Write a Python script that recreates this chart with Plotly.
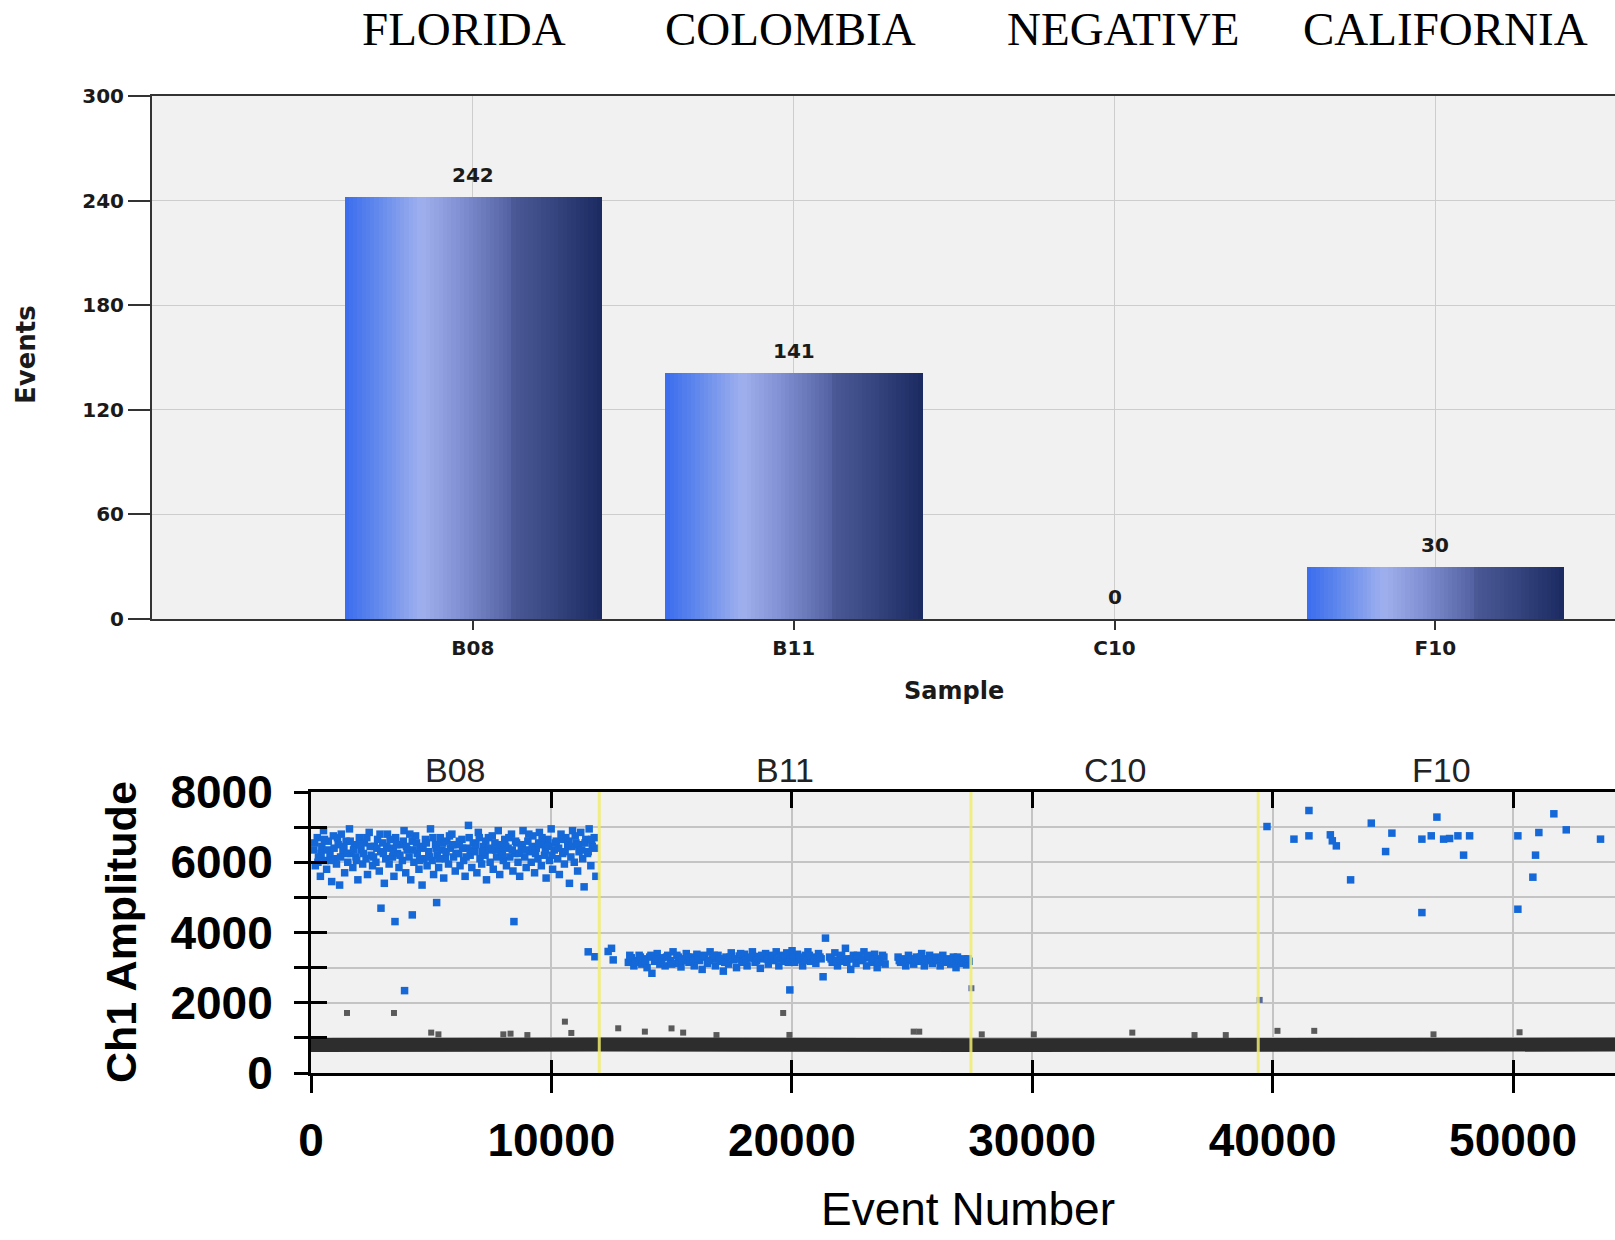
import plotly.graph_objects as go

# ---------------- data: top bar chart ----------------
samples = ["B08", "B11", "C10", "F10"]
events = [242, 141, 0, 30]
origins = ["FLORIDA", "COLOMBIA", "NEGATIVE", "CALIFORNIA"]
origin_shift = [-9, -3, 8, 10]
events_ticks = [0, 60, 120, 180, 240, 300]

# ---------------- data: droplet scatter ----------------
well_edges = [0, 11990, 27450, 39400, 54650]
amp_ticks = [0, 1000, 2000, 3000, 4000, 5000, 6000, 7000, 8000]
amp_labels = ["0", "", "2000", "", "4000", "", "6000", "", "8000"]
event_ticks = [0, 10000, 20000, 30000, 40000, 50000]
neg_low = [600, 610, 600, 600, 610]
neg_high = [1000, 1010, 990, 1000, 1010]

b08_pos = [
    (120, 6350), (180, 5900), (260, 6700), (310, 6150), (390, 5600), (450, 6450), (520, 6900), (600, 6050),
    (650, 5800), (720, 6600), (790, 6250), (860, 5450), (930, 6750), (990, 6100), (1060, 5950), (1130, 6500),
    (1190, 5350), (1260, 6800), (1330, 6300), (1400, 5700), (1460, 6600), (1530, 6000), (1600, 6950), (1660, 6250),
    (1740, 5850), (1800, 6500), (1870, 6150), (1950, 5500), (2010, 6700), (2080, 6350), (2150, 5950), (2220, 6550),
    (2290, 6100), (2350, 5650), (2420, 6850), (2500, 6200), (2560, 5900), (2630, 6450), (2700, 6000), (2770, 6650),
    (2840, 5750), (2900, 6300), (2980, 6550), (3050, 5400), (3110, 6100), (3180, 6800), (3250, 5950), (3320, 6400),
    (3390, 6150), (3450, 5600), (3520, 6700), (3600, 6250), (3660, 5850), (3730, 6500), (3800, 6050), (3870, 6900),
    (3940, 5700), (4000, 6350), (4080, 6150), (4150, 5500), (4210, 6600), (4280, 6000), (4350, 6750), (4420, 6250),
    (4490, 5800), (4550, 6450), (4620, 5350), (4700, 6100), (4760, 6650), (4830, 5900), (4900, 6300), (4970, 6950),
    (5040, 6050), (5100, 5650), (5180, 6500), (5250, 6200), (5310, 5850), (5380, 6700), (5450, 6350), (5520, 5550),
    (5590, 6100), (5650, 6600), (5720, 5950), (5800, 6400), (5860, 6800), (5930, 6150), (6000, 5750), (6070, 6500),
    (6140, 6250), (6200, 5900), (6280, 6650), (6350, 6050), (6410, 5600), (6480, 6400), (6550, 7050), (6620, 6200),
    (6690, 5850), (6750, 6550), (6820, 6300), (6900, 5700), (6960, 6850), (7030, 6100), (7100, 5950), (7170, 6450),
    (7240, 6200), (7300, 5500), (7380, 6700), (7450, 6000), (7510, 6350), (7580, 5800), (7650, 6550), (7720, 6150),
    (7790, 6900), (7850, 5650), (7920, 6300), (8000, 6050), (8060, 6650), (8130, 5900), (8200, 6400), (8270, 6150),
    (8340, 6800), (8400, 5750), (8480, 6250), (8550, 6550), (8610, 6000), (8680, 5600), (8750, 6450), (8820, 6900),
    (8890, 6150), (8950, 5850), (9020, 6600), (9100, 6300), (9160, 6000), (9230, 6750), (9300, 5700), (9370, 6400),
    (9440, 6100), (9500, 6850), (9580, 5900), (9650, 6500), (9710, 6200), (9780, 5550), (9850, 6650), (9920, 6050),
    (9990, 6950), (10050, 5800), (10120, 6350), (10200, 6600), (10260, 6100), (10330, 5650), (10400, 6800), (10470, 6250),
    (10540, 5950), (10600, 6700), (10680, 6450), (10750, 5400), (10810, 6150), (10880, 6900), (10950, 6000), (11020, 6550),
    (11090, 5750), (11150, 6300), (11220, 6850), (11300, 6100), (11360, 5300), (11430, 6650), (11500, 6250), (11570, 6950),
    (11640, 5900), (11700, 6450), (11780, 6700), (11850, 5600),
    (2911, 4692), (3493, 4311), (4213, 4501), (5226, 4852), (8441, 4311), (3892, 2345),
]

b08_core = [
    (150, 6550), (290, 6000), (420, 6250), (560, 6650), (690, 6350), (820, 6050), (960, 6400), (1100, 6700),
    (1230, 6150), (1370, 6450), (1500, 6250), (1630, 6600), (1770, 6350), (1900, 6050), (2040, 6500), (2180, 6250),
    (2320, 6700), (2460, 6450), (2600, 6150), (2740, 6400), (2870, 6800), (3010, 6250), (3150, 6450), (3290, 6650),
    (3420, 6300), (3560, 6500), (3700, 6200), (3840, 6600), (3970, 6450), (4110, 6800), (4250, 6350), (4390, 6550),
    (4520, 6050), (4660, 6400), (4800, 6550), (4930, 6150), (5070, 6700), (5210, 6400), (5350, 6100), (5480, 6550),
    (5620, 6300), (5760, 6750), (5900, 6500), (6030, 6250), (6170, 6600), (6310, 6400), (6450, 6150), (6580, 6700),
    (6720, 6350), (6860, 6500), (7000, 6700), (7130, 6300), (7270, 6600), (7410, 6400), (7540, 6750), (7680, 6350),
    (7820, 6500), (7960, 6200), (8100, 6450), (8230, 6700), (8370, 6350), (8510, 6600), (8650, 6250), (8790, 6500),
    (8920, 6350), (9060, 6800), (9200, 6450), (9340, 6250), (9470, 6550), (9610, 6700), (9750, 6350), (9880, 6450),
    (10020, 6200), (10160, 6550), (10300, 6400), (10430, 6650), (10570, 6300), (10710, 6600), (10850, 6450), (10990, 6750),
    (11120, 6500), (11260, 6350), (11400, 6550), (11530, 6300), (11670, 6650), (11810, 6400),
]

b11_pos = [
    (11530, 3450), (11810, 3310), (12360, 3460), (12500, 3550), (12570, 3220),
    (13200, 3150), (13320, 3280), (13430, 3050), (13540, 3200), (13650, 3350), (13760, 3100), (13870, 3250),
    (13980, 3000), (14090, 3300), (14180, 2840), (14290, 3180), (14400, 3400), (14510, 3100), (14620, 3280),
    (14730, 3050), (14840, 3350), (14950, 3200), (15060, 3450), (15170, 3120), (15280, 3300), (15390, 3020),
    (15500, 3250), (15610, 3400), (15720, 3150), (15830, 3300), (15940, 3050), (16050, 3380), (16160, 3200),
    (16270, 2950), (16380, 3300), (16490, 3120), (16600, 3450), (16710, 3250), (16820, 3050), (16930, 3350),
    (17040, 3180), (17150, 2900), (17260, 3300), (17370, 3100), (17480, 3420), (17590, 3220), (17700, 3000),
    (17810, 3330), (17920, 3150), (18030, 3380), (18140, 3050), (18250, 3270), (18360, 3450), (18470, 3150),
    (18580, 3320), (18690, 2980), (18800, 3250), (18910, 3400), (19020, 3100), (19130, 3300), (19240, 3200),
    (19350, 3450), (19460, 3050), (19570, 3350), (19680, 3180), (19790, 3420), (19900, 3250), (20010, 3480),
    (20120, 3150), (20230, 3380), (20340, 3220), (20450, 3050), (20560, 3350), (20670, 3450), (20780, 3180),
    (20890, 3300), (21000, 3120), (21110, 3400), (21220, 3250), (21300, 2740), (21400, 3840), (21570, 3300),
    (21680, 3150), (21790, 3420), (21900, 3050), (22010, 3280), (22120, 3180), (22230, 3550), (22340, 3250),
    (22450, 2950), (22560, 3350), (22670, 3120), (22780, 3300), (22890, 3200), (23000, 3450), (23110, 3050),
    (23220, 3280), (23330, 3150), (23440, 3380), (23550, 3000), (23660, 3250), (23770, 3350), (23880, 3100),
    (24420, 3300), (24520, 3150), (24630, 3250), (24740, 3050), (24850, 3350), (24960, 3200), (25070, 3100),
    (25180, 3300), (25290, 3180), (25400, 3400), (25510, 3050), (25620, 3250), (25730, 3350), (25840, 3120),
    (25950, 3280), (26060, 3200), (26170, 3050), (26280, 3350), (26390, 3150), (26500, 3250), (26610, 3100),
    (26720, 3300), (26830, 3000), (26940, 3200), (27050, 3120), (27160, 3250), (27270, 3080), (27380, 3180),
    (19917, 2365),
]

b11_core = [
    (13260, 3350), (13480, 3150), (13700, 3300), (13920, 3200), (14140, 3350), (14350, 3250), (14570, 3150),
    (14790, 3300), (15000, 3100), (15220, 3350), (15450, 3200), (15670, 3300), (15890, 3200), (16100, 3250),
    (16330, 3350), (16550, 3200), (16770, 3350), (16990, 3250), (17210, 3150), (17430, 3300), (17650, 3250),
    (17870, 3400), (18090, 3200), (18310, 3300), (18530, 3200), (18750, 3350), (18970, 3250), (19190, 3350),
    (19410, 3250), (19630, 3300), (19850, 3150), (20070, 3300), (20290, 3300), (20510, 3200), (20730, 3350),
    (20950, 3250), (21170, 3300), (21630, 3250), (21850, 3200), (22070, 3350), (22290, 3150), (22510, 3250),
    (22730, 3350), (22950, 3250), (23170, 3350), (23390, 3250), (23610, 3150), (23830, 3300), (24470, 3200),
    (24690, 3150), (24910, 3250), (25130, 3200), (25350, 3300), (25570, 3200), (25790, 3250), (26010, 3300),
    (26230, 3250), (26450, 3200), (26670, 3200), (26890, 3300), (27110, 3200), (27330, 3250),
]

f10_pos = [
    (39765, 7017), (41510, 7473), (40886, 6658), (41510, 6752), (42400, 6781), (42482, 6610), (42649, 6467),
    (43243, 5499), (44103, 7114), (44960, 6829), (44699, 6305), (46208, 6658), (46597, 6752), (46208, 4567),
    (46832, 7285), (47111, 6658), (47360, 6676), (47706, 6752), (48192, 6752), (47942, 6202), (50200, 6752),
    (51073, 6846), (50935, 6202), (50824, 5575), (50200, 4663), (51697, 7379), (52212, 6923), (53638, 6658),
]

dim_pos = [(27470, 2413), (39460, 2080)]

rain_neg = [
    (1497, 1709), (3451, 1709), (10561, 1462), (10828, 1140), (5000, 1150), (5300, 1100), (8000, 1100),
    (8300, 1120), (9000, 1080), (12779, 1273), (13887, 1178), (14996, 1270), (15480, 1150), (16866, 1080),
    (19640, 1709), (19900, 1083), (25068, 1178), (25300, 1177), (27900, 1100), (30064, 1100), (34162, 1150),
    (36750, 1080), (38050, 1080), (40200, 1200), (41730, 1200), (46690, 1100), (50270, 1160),
]

# ---------------- figure ----------------
W, H = 1615, 1240


def px_x(p):
    return p / W


def px_y(p):
    return 1 - p / H


fig = go.Figure()

# gradient bars: many thin slices of each bar
grad_stops = [
    (0.00, (58, 108, 238)),
    (0.12, (95, 135, 236)),
    (0.30, (160, 176, 238)),
    (0.45, (128, 144, 210)),
    (0.64, (86, 100, 165)),
    (0.66, (74, 88, 150)),
    (0.85, (50, 64, 122)),
    (1.00, (28, 42, 98)),
]


def grad_color(t):
    for (t0, c0), (t1, c1) in zip(grad_stops[:-1], grad_stops[1:]):
        if t0 <= t <= t1:
            f = (t - t0) / (t1 - t0) if t1 > t0 else 0
            return "rgb(%d,%d,%d)" % tuple(round(a + (b - a) * f) for a, b in zip(c0, c1))
    return "rgb(%d,%d,%d)" % grad_stops[-1][1]


NS = 60
BW = 0.8
sw = BW / NS
for i in range(NS):
    fig.add_trace(go.Bar(
        x=samples, y=events, width=sw * 1.15, offset=-BW / 2 + i * sw,
        marker=dict(color=grad_color((i + 0.5) / NS), line=dict(width=0)),
        xaxis="x", yaxis="y", showlegend=False, hoverinfo="skip",
    ))

# negative droplet band
fig.add_trace(go.Scatter(x=well_edges, y=neg_low, mode="lines", line=dict(width=0, color="#2d2d2d"),
                         xaxis="x2", yaxis="y2", showlegend=False, hoverinfo="skip"))
fig.add_trace(go.Scatter(x=well_edges, y=neg_high, mode="lines", line=dict(width=0, color="#2d2d2d"),
                         fill="tonexty", fillcolor="#2d2d2d",
                         xaxis="x2", yaxis="y2", showlegend=False, hoverinfo="skip"))

# rain (gray) droplets
fig.add_trace(go.Scatter(x=[p[0] for p in rain_neg], y=[p[1] for p in rain_neg], mode="markers",
                         marker=dict(symbol="square", size=6, color="#5a5a5a", line=dict(width=0)),
                         xaxis="x2", yaxis="y2", showlegend=False, hoverinfo="skip"))

# positive droplets
for pts in (b08_pos, b08_core, b11_pos, b11_core, f10_pos):
    fig.add_trace(go.Scatter(x=[p[0] for p in pts], y=[p[1] for p in pts], mode="markers",
                             marker=dict(symbol="square", size=7.5, color="#1468d8", line=dict(width=0)),
                             xaxis="x2", yaxis="y2", showlegend=False, hoverinfo="skip"))
fig.add_trace(go.Scatter(x=[p[0] for p in dim_pos], y=[p[1] for p in dim_pos], mode="markers",
                         marker=dict(symbol="square", size=6, color="#56689a", line=dict(width=0)),
                         xaxis="x2", yaxis="y2", showlegend=False, hoverinfo="skip"))

# dummy traces so the overlay tick axes are drawn
for xa, ya in (("x3", "y2"), ("x4", "y2"), ("x2", "y3")):
    fig.add_trace(go.Scatter(x=[None], y=[None], mode="markers", xaxis=xa, yaxis=ya,
                             showlegend=False, hoverinfo="skip"))

# well separators (yellow)
for xb in well_edges[1:-1]:
    fig.add_shape(type="line", xref="x2", yref="y2 domain", x0=xb, x1=xb, y0=0, y1=1,
                  line=dict(color="rgba(240,236,110,0.85)", width=3), layer="above")

top_font = dict(family="DejaVu Sans", size=20, color="#1a1a1a", weight="bold")
big_font = dict(family="Liberation Sans", size=46, color="#000000", weight="bold")

fig.update_layout(
    template="none",
    width=W, height=H, autosize=False,
    margin=dict(l=0, r=0, t=0, b=0, pad=0, autoexpand=False),
    showlegend=False,
    paper_bgcolor="white", plot_bgcolor="#f1f1f1",
    barmode="overlay", bargap=0,
    xaxis=dict(domain=[px_x(152), 1], range=[-1.0, 3.56], type="category",
               showgrid=True, gridcolor="#cdcdcd", gridwidth=1,
               ticks="outside", ticklen=9, tickwidth=2, tickcolor="#333",
               showline=True, linecolor="#333", linewidth=2, mirror=True,
               tickfont=top_font, ticklabelstandoff=1, zeroline=False, anchor="y", automargin=False),
    yaxis=dict(domain=[px_y(619), px_y(96)], range=[0, 300], tickvals=events_ticks,
               showgrid=True, gridcolor="#cdcdcd", gridwidth=1,
               ticks="outside", ticklen=22, tickwidth=2, tickcolor="#333",
               showline=True, linecolor="#333", linewidth=2,
               tickfont=top_font, ticklabelstandoff=0, zeroline=False, anchor="x", automargin=False),
    xaxis2=dict(domain=[px_x(311), 1], range=[0, 54240], tickvals=event_ticks, tickformat="d",
                showgrid=True, gridcolor="#c4c4c4", gridwidth=2,
                ticks="outside", ticklen=17, tickwidth=3, tickcolor="black",
                showline=True, linecolor="black", linewidth=3,
                tickfont=big_font, ticklabelstandoff=8, zeroline=False, anchor="y2", automargin=False),
    xaxis3=dict(overlaying="x2", side="top", anchor="y2", range=[0, 54240], tickvals=event_ticks,
                ticks="inside", ticklen=16, tickwidth=3, tickcolor="black",
                showline=True, linecolor="black", linewidth=3,
                showticklabels=False, showgrid=False, zeroline=False, automargin=False),
    xaxis4=dict(overlaying="x2", side="bottom", anchor="y2", range=[0, 54240], tickvals=event_ticks,
                ticks="inside", ticklen=13, tickwidth=3, tickcolor="black",
                showline=False, showticklabels=False, showgrid=False, zeroline=False, automargin=False),
    yaxis2=dict(domain=[px_y(1073), px_y(792)], range=[0, 8000], tickvals=amp_ticks, ticktext=amp_labels,
                showgrid=True, gridcolor="#c4c4c4", gridwidth=2,
                ticks="outside", ticklen=14, tickwidth=3, tickcolor="black",
                showline=True, linecolor="black", linewidth=3,
                tickfont=big_font, ticklabelstandoff=12, zeroline=False, anchor="x2", automargin=False),
    yaxis3=dict(overlaying="y2", side="left", anchor="x2", range=[0, 8000], tickvals=amp_ticks,
                ticks="inside", ticklen=16, tickwidth=3, tickcolor="black",
                showline=False, showticklabels=False, showgrid=False, zeroline=False, automargin=False),
)

ann = []
# bar value labels
for s, v in zip(samples, events):
    ann.append(dict(x=s, y=v, xref="x", yref="y", text=str(v), showarrow=False,
                    xanchor="center", yanchor="bottom", yshift=8, font=top_font))
# origin titles
for s, o, sh in zip(samples, origins, origin_shift):
    ann.append(dict(x=s, y=px_y(29), xref="x", yref="paper", text=o, showarrow=False,
                    xshift=sh, xanchor="center", yanchor="middle",
                    font=dict(family="Liberation Serif", size=47, color="black")))
# axis titles top chart
ann.append(dict(x=px_x(26), y=px_y(355), xref="paper", yref="paper", text="Events", textangle=-90,
                xanchor="center", yanchor="middle", showarrow=False,
                font=dict(family="DejaVu Sans", size=26, color="#1a1a1a", weight="bold")))
ann.append(dict(x=px_x(954), y=px_y(691), xref="paper", yref="paper", text="Sample",
                xanchor="center", yanchor="middle", showarrow=False,
                font=dict(family="DejaVu Sans", size=24, color="#1a1a1a", weight="bold")))
# well labels above droplet plot
for s, a, b in zip(samples, well_edges[:-1], well_edges[1:]):
    ann.append(dict(x=(a + b) / 2, y=px_y(770), xref="x2", yref="paper", text=s, showarrow=False,
                    xanchor="center", yanchor="middle",
                    font=dict(family="Liberation Sans", size=34, color="#222")))
# axis titles bottom chart
ann.append(dict(x=px_x(121), y=px_y(932), xref="paper", yref="paper", text="Ch1 Amplitude", textangle=-90,
                xanchor="center", yanchor="middle", showarrow=False,
                font=dict(family="Liberation Sans", size=43, color="black", weight="bold")))
ann.append(dict(x=px_x(968), y=px_y(1209), xref="paper", yref="paper", text="Event Number",
                xanchor="center", yanchor="middle", showarrow=False,
                font=dict(family="Liberation Sans", size=46, color="black")))
fig.update_layout(annotations=ann)

fig.write_html("out.html", config={"displayModeBar": False},
               post_script="document.body.style.margin='0px';")
